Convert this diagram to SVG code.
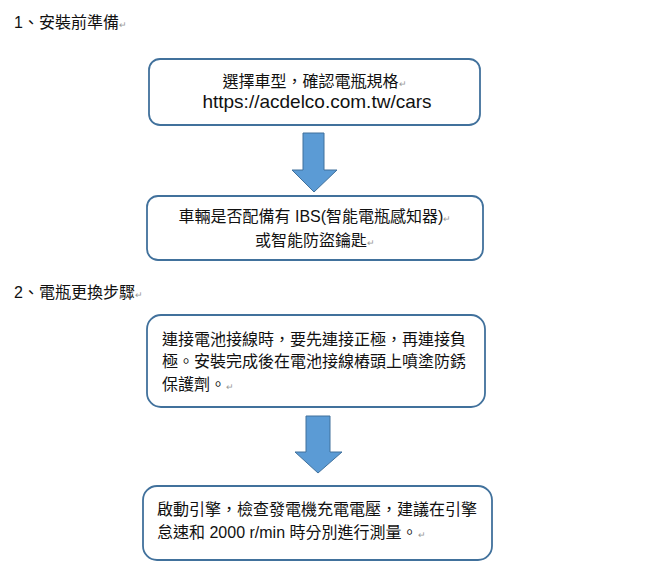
<svg xmlns="http://www.w3.org/2000/svg" width="650" height="577" viewBox="0 0 650 577">
<style>
.bg{fill:#ffffff}
.box{fill:#ffffff;stroke:#41719c;stroke-width:1.8}
.arrow{fill:#5b9bd5;stroke:#41719c;stroke-width:1}
.t{font-family:"Liberation Sans","Noto Sans CJK TC",sans-serif;font-size:16px;fill:#111}
.h{font-family:"Liberation Sans","Noto Sans CJK TC",sans-serif;font-size:16px;fill:#111}
.url{font-family:"Liberation Sans","Noto Sans CJK TC",sans-serif;font-size:19px;fill:#111}
.pm{fill:#999;font-size:9px}
</style>
<rect class="bg" x="0" y="0" width="650" height="577"/>
<g id="heading1"><text class="h" x="14" y="28">1、安裝前準備<tspan class="pm">↵</tspan></text></g>
<g id="heading2"><text class="h" x="14" y="298">2、電瓶更換步驟<tspan class="pm">↵</tspan></text></g>
<g id="connectors">
<path class="arrow" d="M303,133 H324 V170 H337 L314,192 L292,170 H303 Z"/>
<path class="arrow" d="M306,416 H330 V452 H342 L318,473 L295,452 H306 Z"/>
</g>
<g id="node1">
<rect class="box" x="149" y="59" width="331" height="66" rx="11"/>
<text class="t" x="314.5" y="87" text-anchor="middle">選擇車型，確認電瓶規格<tspan class="pm">↵</tspan></text>
<text class="url" x="317" y="108" text-anchor="middle">https://acdelco.com.tw/cars</text>
</g>
<g id="node2">
<rect class="box" x="147" y="196" width="336" height="64" rx="11"/>
<text class="t" x="315" y="222" text-anchor="middle">車輛是否配備有 IBS(智能電瓶感知器)<tspan class="pm">↵</tspan></text>
<text class="t" x="315" y="246" text-anchor="middle">或智能防盜鑰匙<tspan class="pm">↵</tspan></text>
</g>
<g id="node3">
<rect class="box" x="147" y="315" width="338" height="92" rx="14"/>
<text class="t" x="162" y="345">連接電池接線時，要先連接正極，再連接負</text>
<text class="t" x="162" y="367">極。安裝完成後在電池接線樁頭上噴塗防銹</text>
<text class="t" x="162" y="390">保護劑。<tspan class="pm">↵</tspan></text>
</g>
<g id="node4">
<rect class="box" x="143" y="486" width="349" height="74" rx="14"/>
<text class="t" x="157" y="515">啟動引擎，檢查發電機充電電壓，建議在引擎</text>
<text class="t" x="157" y="538">怠速和 2000 r/min 時分別進行測量。<tspan class="pm">↵</tspan></text>
</g>
</svg>
